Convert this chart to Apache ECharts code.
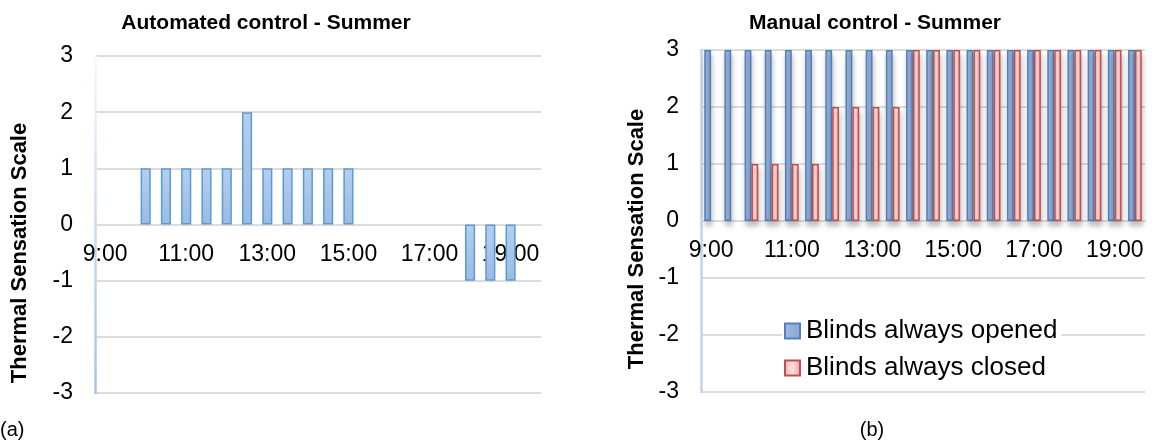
<!DOCTYPE html>
<html>
<head>
<meta charset="utf-8">
<script src="https://cdn.jsdelivr.net/npm/echarts@6/dist/echarts.min.js"></script>
<style>
  html, body { margin: 0; padding: 0; background: #fff; }
  #chart { width: 1152px; height: 441px; }
</style>
</head>
<body>
<div id="chart"></div>
<script>
// Half-hour time slots, 9:00 to 19:30
const timeSlots = ['9:00','9:30','10:00','10:30','11:00','11:30','12:00','12:30','13:00','13:30',
  '14:00','14:30','15:00','15:30','16:00','16:30','17:00','17:30','18:00','18:30','19:00','19:30'];

// Thermal sensation votes, automated control
const automatedSummer = [0,0,1,1,1,1,1,2,1,1,1,1,1,0,0,0,0,0,-1,-1,-1,0];

// Thermal sensation votes, manual control
const blindsOpened = [3,3,3,3,3,3,3,3,3,3,3,3,3,3,3,3,3,3,3,3,3,3];
const blindsClosed = [0,0,1,1,1,1,2,2,2,2,3,3,3,3,3,3,3,3,3,3,3,3];

const scaleTicks = [-3, -2, -1, 0, 1, 2, 3];

const FONT = '"Liberation Sans", Arial, sans-serif';

// Plot rectangles of the two panels
const panels = [
  { left: 95, top: 56, width: 446, height: 337, labelMargin: 19 },
  { left: 701, top: 50, width: 444, height: 342, labelMargin: 18 }
];

// zero votes draw no outline
const toBars = arr => arr.map(v => (v === 0 ? { value: 0, itemStyle: { borderWidth: 0 } } : v));

const grad = (x2, y2, stops) => new echarts.graphic.LinearGradient(0, 0, x2, y2,
  stops.map((c, i) => ({ offset: i / (stops.length - 1), color: c })));

function valueAxis(gridIndex, lineColor) {
  return {
    type: 'value', gridIndex,
    min: scaleTicks[0], max: scaleTicks[scaleTicks.length - 1], interval: 1,
    axisLine: { show: true, lineStyle: { color: lineColor, width: 2.5 } },
    axisTick: { show: false },
    axisLabel: { color: '#000', fontSize: 23, fontFamily: FONT, margin: 22 },
    splitLine: { lineStyle: { color: '#dcdcdc', width: 2 } }
  };
}

// time axis crossing the value axis at 0 (lifted from the bottom edge of its plot)
function timeAxis(gridIndex) {
  const p = panels[gridIndex];
  const lo = scaleTicks[0], hi = scaleTicks[scaleTicks.length - 1];
  const zeroFromBottom = p.height * (0 - lo) / (hi - lo);
  return {
    type: 'category', gridIndex, data: timeSlots,
    position: 'bottom', offset: -zeroFromBottom,
    axisLine: { show: true, onZero: false, lineStyle: { color: '#dcdcdc', width: 2 } },
    axisTick: { show: false },
    axisLabel: { interval: 3, color: '#000', fontSize: 23, fontFamily: FONT, margin: p.labelMargin },
    splitLine: { show: false }
  };
}

const chart = echarts.init(document.getElementById('chart'), null, { renderer: 'canvas' });

const barShadow = { shadowColor: 'rgba(0,0,0,0.22)', shadowBlur: 5, shadowOffsetX: 1, shadowOffsetY: 5 };

chart.setOption({
  animation: false,
  backgroundColor: '#fff',
  textStyle: { fontFamily: FONT },
  title: [
    { text: 'Automated control - Summer', left: 261, top: 8, textAlign: 'center',
      textStyle: { fontSize: 21, fontWeight: 'bold', color: '#000', fontFamily: FONT } },
    { text: 'Manual control - Summer', left: 870, top: 8, textAlign: 'center',
      textStyle: { fontSize: 21, fontWeight: 'bold', color: '#000', fontFamily: FONT } }
  ],
  grid: panels.map(p => ({
    left: p.left, top: p.top, width: p.width, height: p.height,
    containLabel: false, outerBoundsMode: 'none'
  })),
  xAxis: [timeAxis(0), timeAxis(1)],
  yAxis: [
    valueAxis(0, grad(0, 1, ['#f6f9fd', '#c9dbf0', '#a9c4e6'])),
    valueAxis(1, '#c3d3ea')
  ],
  legend: {
    orient: 'vertical', left: 782, top: 316,
    padding: [2, 4, 2, 2], itemGap: 11,
    itemWidth: 15, itemHeight: 15,
    backgroundColor: '#fff',
    icon: 'rect',
    textStyle: { fontSize: 26, color: '#000', fontFamily: FONT, padding: [0, 0, 0, 1] },
    data: ['Blinds always opened', 'Blinds always closed']
  },
  series: [
    {
      name: 'Automated control', type: 'bar', xAxisIndex: 0, yAxisIndex: 0,
      barWidth: '50%',
      data: toBars(automatedSummer),
      itemStyle: {
        color: grad(0, 1, ['#b5cfed', '#9bbbe3']),
        borderColor: '#5b9bd5', borderWidth: 1.5
      }
    },
    {
      name: 'Blinds always opened', type: 'bar', xAxisIndex: 1, yAxisIndex: 1,
      barGap: '0%', barCategoryGap: '32%',
      data: toBars(blindsOpened),
      itemStyle: Object.assign({
        color: grad(1, 0, ['#a6bde0', '#95afd7', '#8aa6d2']),
        borderColor: '#4f81bd', borderWidth: 1.5
      }, barShadow)
    },
    {
      name: 'Blinds always closed', type: 'bar', xAxisIndex: 1, yAxisIndex: 1,
      barGap: '0%', barCategoryGap: '32%',
      data: toBars(blindsClosed),
      itemStyle: Object.assign({
        color: grad(1, 0, ['#ffb0b0', '#ffe2e2', '#ff9c9c']),
        borderColor: '#c0504d', borderWidth: 1.5
      }, barShadow)
    }
  ],
  graphic: [
    { type: 'text', x: 20, y: 253, rotation: Math.PI / 2,
      style: { text: 'Thermal Sensation Scale', fill: '#000', font: 'bold 22px ' + FONT,
        align: 'center', verticalAlign: 'middle' } },
    { type: 'text', x: 637, y: 239, rotation: Math.PI / 2,
      style: { text: 'Thermal Sensation Scale', fill: '#000', font: 'bold 22px ' + FONT,
        align: 'center', verticalAlign: 'middle' } },
    { type: 'text', x: 0, y: 430,
      style: { text: '(a)', fill: '#000', font: '20px ' + FONT, align: 'left', verticalAlign: 'middle' } },
    { type: 'text', x: 872, y: 430,
      style: { text: '(b)', fill: '#000', font: '20px ' + FONT, align: 'center', verticalAlign: 'middle' } }
  ]
});
</script>
</body>
</html>
